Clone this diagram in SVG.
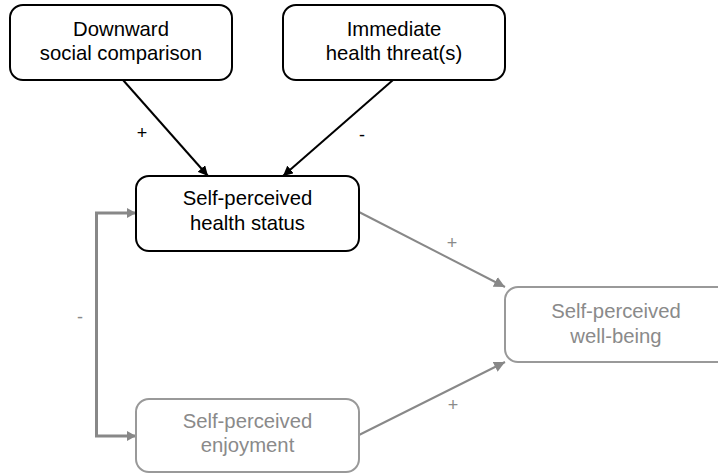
<svg xmlns="http://www.w3.org/2000/svg" width="718" height="473" viewBox="0 0 718 473">
<style>
text{font-family:"Liberation Sans",Arial,sans-serif;text-anchor:middle}
.t{font-size:20.3px;fill:#000}
.tg{font-size:20.3px;fill:#8a8a8a}
.bk{fill:#fff;stroke:#000;stroke-width:2}
.bg{fill:#fff;stroke:#999;stroke-width:2}
.lb{font-size:18px;fill:#000}
.lg{font-size:18px;fill:#8a8a8a}
</style>
<defs>
<marker id="ab" viewBox="0 0 10 10" refX="10" refY="5" markerWidth="10" markerHeight="10" markerUnits="userSpaceOnUse" orient="auto"><path d="M0,0L10,5L0,10z" fill="#000"/></marker>
<marker id="ag" viewBox="0 0 10 10" refX="10" refY="5" markerWidth="11" markerHeight="11" markerUnits="userSpaceOnUse" orient="auto"><path d="M0,0L10,5L0,10z" fill="#888"/></marker>
</defs>
<rect width="718" height="473" fill="#fff"/>
<g id="connectors">
<line x1="123" y1="80" x2="208" y2="176" stroke="#000" stroke-width="2" marker-end="url(#ab)"/>
<line x1="393" y1="80" x2="283" y2="176" stroke="#000" stroke-width="2" marker-end="url(#ab)"/>
<line x1="359" y1="212" x2="505" y2="287" stroke="#888" stroke-width="2" marker-end="url(#ag)"/>
<line x1="359" y1="435" x2="505" y2="362" stroke="#888" stroke-width="2" marker-end="url(#ag)"/>
<path d="M136,213H96.5V436H136" fill="none" stroke="#888" stroke-width="3"/>
<path d="M136,213l-9,-5v10z" fill="#888"/>
<path d="M136,436l-9,-5v10z" fill="#888"/>
<text class="lb" x="142" y="139">+</text>
<text class="lb" x="362" y="141">-</text>
<text class="lg" x="452" y="249">+</text>
<text class="lg" x="453" y="411">+</text>
<text class="lg" x="80" y="323">-</text>
</g>
<g id="n1"><rect class="bk" x="10" y="5" width="222" height="75" rx="13"/><text class="t" x="121" y="36">Downward</text><text class="t" x="121" y="60">social comparison</text></g>
<g id="n2"><rect class="bk" x="283" y="5" width="222" height="75" rx="13"/><text class="t" x="394" y="36">Immediate</text><text class="t" x="394" y="60">health threat(s)</text></g>
<g id="n3"><rect class="bk" x="136" y="176" width="223" height="75" rx="13"/><text class="t" x="247.5" y="205">Self-perceived</text><text class="t" x="247.5" y="230">health status</text></g>
<g id="n4"><rect class="bg" x="136" y="399" width="223" height="73" rx="13"/><text class="tg" x="247.5" y="428">Self-perceived</text><text class="tg" x="247.5" y="452">enjoyment</text></g>
<g id="n5"><rect class="bg" x="505" y="287" width="225" height="75" rx="13"/><text class="tg" x="616" y="318">Self-perceived</text><text class="tg" x="616" y="343">well-being</text></g>
</svg>
